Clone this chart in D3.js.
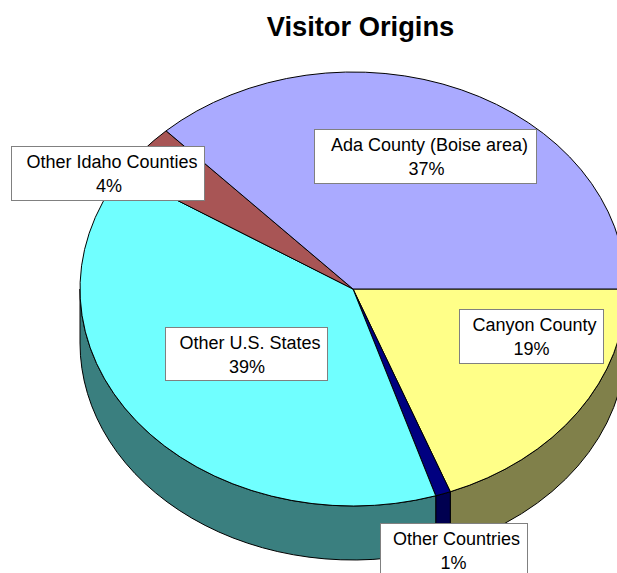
<!DOCTYPE html>
<html>
<head>
<meta charset="utf-8">
<script src="https://cdn.jsdelivr.net/npm/d3@7"></script>
<style>
  html, body { margin: 0; padding: 0; background: #fff; overflow: hidden; }
  text { font-family: "Liberation Sans", Arial, sans-serif; fill: #000; }
</style>
</head>
<body>
<div id="plot"></div>
<script>
// Chart values, clockwise from the 3 o'clock position
const categories = ["Canyon County", "Other Countries", "Other U.S. States", "Other Idaho Counties", "Ada County (Boise area)"];
const shares = [19.2, 0.9, 38.9, 4, 37];
const topColors = ["#ffff88", "#000080", "#70ffff", "#a85555", "#aaaaff"];
const sideColors = ["#80804a", "#000050", "#3a7f7f", "#6a3535", "#6a6aa0"];

const width = 617, height = 573;
const svg = d3.select("#plot").append("svg")
    .attr("width", width)
    .attr("height", height)
    .style("display", "block");

// Pie geometry
const cx = 353, cy = 289, rx = 273, ry = 217, depth = 54;

const pie = d3.pie().sort(null).startAngle(Math.PI / 2).endAngle(Math.PI * 2.5);
const slices = pie(shares);

const xScale = d3.scaleLinear().domain([-1, 1]).range([cx - rx, cx + rx]);
const yScale = d3.scaleLinear().domain([-1, 1]).range([cy - ry, cy + ry]);

// d3 angles run clockwise from north
const px = a => xScale(Math.sin(a));
const py = a => yScale(-Math.cos(a));

// Side walls, only the front half of the rim can be seen
function wallPath(a0, a1) {
    return `M${px(a0)},${py(a0)}` +
        `A${rx},${ry} 0 0 1 ${px(a1)},${py(a1)}` +
        `L${px(a1)},${py(a1) + depth}` +
        `A${rx},${ry} 0 0 0 ${px(a0)},${py(a0) + depth}Z`;
}

svg.selectAll("path.wall")
    .data(slices.filter(d => d.startAngle < Math.PI * 1.5))
    .enter()
    .append("path")
    .attr("class", "wall")
    .attr("d", d => wallPath(d.startAngle, Math.min(d.endAngle, Math.PI * 1.5)))
    .style("fill", d => sideColors[d.index])
    .style("stroke", "#000")
    .style("stroke-width", 1);

// Top face, a flat pie squashed into an ellipse
const arc = d3.arc().innerRadius(0).outerRadius(rx);

svg.append("g")
    .attr("transform", `translate(${cx},${cy}) scale(1,${ry / rx})`)
    .selectAll("path")
    .data(slices)
    .enter()
    .append("path")
    .attr("d", arc)
    .attr("vector-effect", "non-scaling-stroke")
    .style("fill", d => topColors[d.index])
    .style("stroke", "#000")
    .style("stroke-width", 1);

// Title
svg.append("text")
    .attr("x", 360.5)
    .attr("y", 36)
    .attr("text-anchor", "middle")
    .style("font-size", "27.3px")
    .style("font-weight", "bold")
    .text("Visitor Origins");

// Label boxes, in the same order as categories
const labelBoxes = [
    { x: 459, y: 309, w: 144, h: 54, tx: 534.5 },
    { x: 380, y: 523, w: 147, h: 60, tx: 456.5 },
    { x: 165, y: 327, w: 162, h: 53, tx: 250 },
    { x: 11, y: 146, w: 193, h: 54, tx: 112 },
    { x: 314, y: 129, w: 222, h: 54, tx: 429.5 }
];

const labels = svg.selectAll("g.label")
    .data(slices)
    .enter()
    .append("g")
    .attr("class", "label")
    .attr("transform", d => `translate(${labelBoxes[d.index].x},${labelBoxes[d.index].y})`);

labels.append("rect")
    .attr("x", 0.5)
    .attr("y", 0.5)
    .attr("width", d => labelBoxes[d.index].w)
    .attr("height", d => labelBoxes[d.index].h)
    .style("fill", "#fff")
    .style("stroke", "#808080")
    .style("stroke-width", 1);

labels.append("text")
    .attr("x", d => labelBoxes[d.index].tx - labelBoxes[d.index].x)
    .attr("y", 22)
    .attr("text-anchor", "middle")
    .style("font-size", "18px")
    .text(d => categories[d.index]);

labels.append("text")
    .attr("x", d => labelBoxes[d.index].tx - labelBoxes[d.index].x - 3)
    .attr("y", 46)
    .attr("text-anchor", "middle")
    .style("font-size", "18px")
    .text(d => Math.round(d.data) + "%");
</script>
</body>
</html>
